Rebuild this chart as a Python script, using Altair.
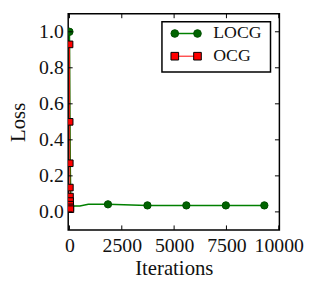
import altair as alt
import pandas as pd

# LOCG series (line points) and which of them carry a marker
locg_x = [0, 20, 40, 60, 80, 150, 500, 900, 1840, 3726, 5585, 7472, 9311]
locg_y = [1.0, 0.6, 0.25, 0.1, 0.05, 0.033, 0.033, 0.042, 0.042, 0.036, 0.036, 0.036, 0.036]
locg_marker = [True, False, False, False, False, False, False, False, True, True, True, True, True]

# OCG series
ocg_x = [5, 10, 15, 20, 25, 30, 35, 40, 45]
ocg_y = [0.93, 0.5, 0.27, 0.135, 0.085, 0.06, 0.04, 0.025, 0.015]

x_ticks = [0, 2500, 5000, 7500, 10000]
y_ticks = [0.0, 0.2, 0.4, 0.6, 0.8, 1.0]

legend_labels = ["LOCG", "OCG"]

W, H = 214, 219
FONT = "Liberation Serif"
GREEN = "#008000"
GREEN_DARK = "#006400"
RED = "#ff0000"
TXT = "#111111"

xscale = alt.Scale(domain=[-60, 10030], nice=False, zero=False)
yscale = alt.Scale(domain=[-0.1, 1.1], nice=False, zero=False)

locg = pd.DataFrame({"x": locg_x, "y": locg_y, "m": locg_marker})
ocg = pd.DataFrame({"x": ocg_x, "y": ocg_y})

X = alt.X("x:Q", scale=xscale,
          axis=alt.Axis(values=x_ticks, format="d", title="Iterations", tickSize=0,
                        domain=False, grid=False, labelPadding=6, titlePadding=2,
                        labelFont=FONT, labelFontSize=20, titleFont=FONT, titleFontSize=21,
                        titleFontWeight="normal", labelColor=TXT, titleColor=TXT,
                        labelFlush=False))
Y = alt.Y("y:Q", scale=yscale,
          axis=alt.Axis(values=y_ticks, format=".1f", title="Loss", tickSize=0,
                        domain=False, grid=False, labelPadding=5, titlePadding=10,
                        labelFont=FONT, labelFontSize=20, titleFont=FONT, titleFontSize=21,
                        titleFontWeight="normal", labelColor=TXT, titleColor=TXT))

locg_line = alt.Chart(locg).mark_line(color=GREEN, strokeWidth=1.5, clip=True).encode(x=X, y=Y)
locg_pts = alt.Chart(locg).transform_filter("datum.m").mark_point(
    shape="circle", filled=True, fill=GREEN_DARK, stroke="#004d00", strokeWidth=1,
    size=55, opacity=1, clip=True).encode(x="x:Q", y="y:Q")
ocg_line = alt.Chart(ocg).mark_line(color=RED, strokeWidth=1, clip=True).encode(x="x:Q", y="y:Q")
ocg_pts = alt.Chart(ocg).mark_point(
    shape="square", filled=True, fill=RED, stroke="black", strokeWidth=1,
    size=45, opacity=1, clip=True).encode(x="x:Q", y="y:Q")

# inward ticks on all four sides
xt = pd.DataFrame({"x": x_ticks})
yt = pd.DataFrame({"y": y_ticks})
TL = 4.5
ticks_bottom = alt.Chart(xt).mark_rule(color="black", strokeWidth=1).encode(
    x="x:Q", y=alt.value(H), y2=alt.value(H - TL))
ticks_top = alt.Chart(xt).mark_rule(color="black", strokeWidth=1).encode(
    x="x:Q", y=alt.value(0), y2=alt.value(TL))
ticks_left = alt.Chart(yt).mark_rule(color="black", strokeWidth=1).encode(
    y="y:Q", x=alt.value(0), x2=alt.value(TL))
ticks_right = alt.Chart(yt).mark_rule(color="black", strokeWidth=1).encode(
    y="y:Q", x=alt.value(W), x2=alt.value(W - TL))

# legend drawn by hand
one = pd.DataFrame({"k": [0]})
lx0, lx1, ly0, ly1 = 95, 205, 8, 59
leg_box = alt.Chart(one).mark_rect(fill="white", stroke="black", strokeWidth=1.5).encode(
    x=alt.value(lx0), x2=alt.value(lx1), y=alt.value(ly0), y2=alt.value(ly1))
r1, r2 = 20, 43
m0, m1 = 108, 131
leg_l1 = alt.Chart(one).mark_rule(color=GREEN, strokeWidth=1.5).encode(
    x=alt.value(m0), x2=alt.value(m1), y=alt.value(r1))
leg_l2 = alt.Chart(one).mark_rule(color=RED, strokeWidth=1).encode(
    x=alt.value(m0), x2=alt.value(m1), y=alt.value(r2))
leg_p1 = alt.Chart(pd.DataFrame({"px": [m0, m1]})).mark_point(
    shape="circle", filled=True, fill=GREEN_DARK, stroke="#004d00", strokeWidth=1, size=60, opacity=1
).encode(x=alt.X("px:Q", scale=None), y=alt.value(r1))
leg_p2 = alt.Chart(pd.DataFrame({"px": [m0, m1]})).mark_point(
    shape="square", filled=True, fill=RED, stroke="black", strokeWidth=1, size=60, opacity=1
).encode(x=alt.X("px:Q", scale=None), y=alt.value(r2))
leg_t = alt.Chart(pd.DataFrame({"t": legend_labels, "py": [r1, r2]})).mark_text(
    font=FONT, fontSize=18, align="left", baseline="middle", color=TXT).encode(
    x=alt.value(147), y=alt.Y("py:Q", scale=None), text="t:N")

chart = alt.layer(
    locg_line, ocg_line, locg_pts, ocg_pts,
    ticks_bottom, ticks_top, ticks_left, ticks_right,
    leg_box, leg_l1, leg_l2, leg_p1, leg_p2, leg_t,
).properties(
    width=W, height=H, padding={"left": 0, "top": 3, "right": 5, "bottom": 5},
    background="white",
).configure_view(stroke="black", strokeWidth=1.5)

chart.save("out.html", embed_options={"renderer": "svg", "actions": False})
